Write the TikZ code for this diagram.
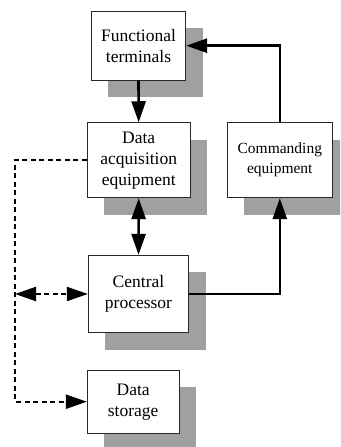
\documentclass[tikz,border=0pt]{standalone}
\usepackage{fontspec}
\setmainfont{Liberation Serif}
\usetikzlibrary{arrows.meta,shadows}
\definecolor{shadowgray}{RGB}{160,160,160}
\definecolor{boxline}{RGB}{40,40,40}
\begin{document}
\begin{tikzpicture}[x=1pt,y=-1pt,
  box/.style={draw=boxline, line width=0.9pt, fill=white, align=center, inner sep=0pt,
    font=\fontsize{17.5}{21}\selectfont,
    drop shadow={shadow xshift=17pt, shadow yshift=-17pt, fill=shadowgray, opacity=1, draw=none}},
  tip/.style={Triangle[length=21pt,width=14pt]},
  link/.style={line width=2.6pt, -{Triangle[length=21pt,width=14pt]}},
  biline/.style={line width=2.6pt, {Triangle[length=21pt,width=14pt]}-{Triangle[length=21pt,width=14pt]}},
  dashline/.style={line width=2pt, dash pattern=on 5pt off 3.5pt, -{Triangle[length=21pt,width=14pt]}},
  dashbi/.style={line width=2pt, dash pattern=on 5pt off 3.5pt, {Triangle[length=21pt,width=14pt]}-{Triangle[length=21pt,width=14pt]}}]
\clip (0,0) rectangle (340,447);
\fill[white] (0,0) rectangle (340,447);
\node[box, minimum width=94.4pt, minimum height=68.7pt] (FT) at (138.5,45.7) {Functional\\terminals};
\node[box, minimum width=102.7pt, minimum height=75pt] (DA) at (138.7,160.2) {Data\\acquisition\\equipment};
\node[box, minimum width=105.7pt, minimum height=75pt, font=\fontsize{15.5}{20}\selectfont] (CE) at (279.8,160.2) {Commanding\\equipment};
\node[box, minimum width=100.4pt, minimum height=77.4pt] (CP) at (138.5,294) {Central\\processor};
\node[box, minimum width=91.7pt, minimum height=63.3pt] (DS) at (133.2,401.7) {Data\\storage};
\coordinate (lx) at (15,294);
\draw[link] (FT.south) -- (DA.north);
\draw[link] (CE.north) |- (FT.east);
\draw[biline] (DA.south) -- (CP.north);
\draw[link] (CP.east) -| (CE.south);
\draw[dashline] (DA.west) -- (DA.west -| lx) -- (DS.west -| lx) -- (DS.west);
\draw[dashbi] (CP.west -| lx) -- (CP.west);
\end{tikzpicture}
\end{document}
